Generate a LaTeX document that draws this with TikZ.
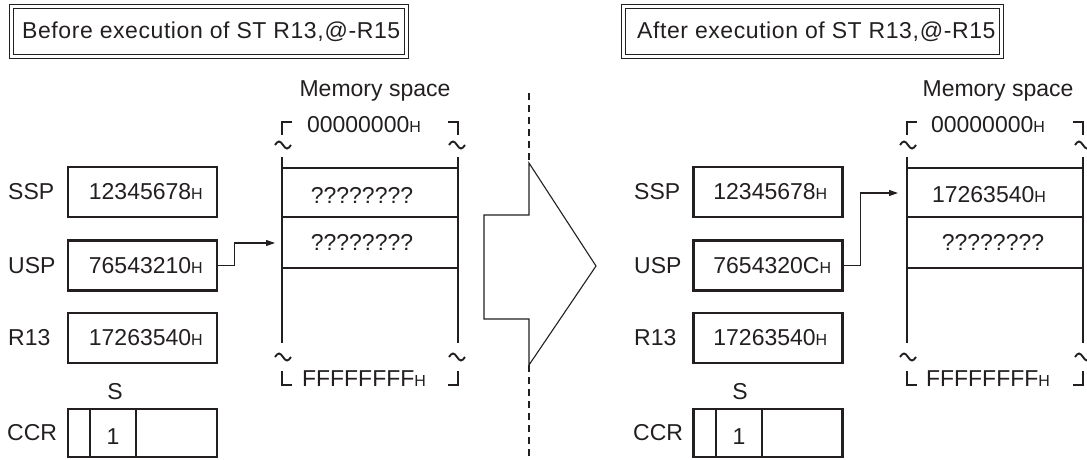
\documentclass[tikz,border=0pt]{standalone}
\usepackage{fontspec}
\setmainfont{Liberation Sans}
\usetikzlibrary{calc,arrows.meta}
\definecolor{ink}{HTML}{231F20}
\newcommand\hsub{{\fontsize{16}{16}\selectfont H}}
\newcommand\tildeat[2]{\draw[tild] (#1-8,#2) sin (#1-4,#2-3.5) cos (#1,#2) sin (#1+4,#2+3.5) cos (#1+8,#2);}
\begin{document}
\begin{tikzpicture}[x=1pt,y=-1pt,
  every node/.style={inner sep=0pt, text=ink, font=\fontsize{23}{27}\selectfont},
  regbox/.style={draw=ink, line width=2.6pt, minimum width=149pt, minimum height=50pt},
  regtxt/.style={anchor=west},
  lbl/.style={anchor=west},
  mline/.style={draw=ink, line width=2.6pt},
  rowline/.style={draw=ink, line width=1.4pt},
  thinline/.style={draw=ink, line width=1.1pt},
  brk/.style={draw=ink, line width=2.6pt},
  tild/.style={draw=ink, line width=1.9pt},
  conn/.style={draw=ink, line width=1.1pt, -{Triangle[length=9pt,width=6pt]}},
  ttl/.style={draw=ink, line width=1pt, double, double distance=3pt},
  ttltxt/.style={anchor=west, font=\fontsize{23}{27}\selectfont\addfontfeature{LetterSpace=2.5}}
]
\useasboundingbox (0,0) rectangle (1087,459);

% ---------------- titles ----------------
\node[ttltxt] (ltitle) at (22,32) {Before execution of ST R13,\hspace{1pt}@-R15};
\draw[ttl] ($(ltitle.west)+(-11,-26)$) rectangle ($(ltitle.east)+(6,24.5)$);
\node[ttltxt] (rtitle) at (637,32) {After execution of ST R13,\hspace{1pt}@-R15};
\draw[ttl] ($(rtitle.west)+(-14,-26)$) rectangle ($(rtitle.east)+(6,24.5)$);

% ---------------- left panel ----------------
\node[lbl] (lsspl) at (8,192) {SSP};
\node[lbl] (luspl) at (8,265.5) {USP};
\node[lbl] (lr13l) at (8,338) {R13};
\node[lbl] (lccrl) at (7,433) {CCR};
\node[regbox] (lssp) at (142.5,192) {};
\node[regbox] (lusp) at (142.5,265.5) {};
\node[regbox] (lr13) at (142.5,338) {};
\node[regbox, minimum height=48pt] (lccr) at (142.5,433) {};
\node[regtxt] (lsspv) at ($(lssp.west)+(22,0)$) {12345678\hsub};
\node[regtxt] (luspv) at ($(lusp.west)+(22,0)$) {76543210\hsub};
\node[regtxt] (lr13v) at ($(lr13.west)+(22,0)$) {17263540\hsub};
\draw[thinline] (90,409) -- (90,457) (136,409) -- (136,457);
\node (lsl) at (115,392) {S};
\node (lsv) at (113,437) {1};

% memory left
\node (lmem) at (375,91) {Memory space};
\node (ltop) at (364,125) {00000000\hsub};
\node (lbot) at (364,379) {FFFFFFFF\hsub};
\draw[brk] (282,135) -- (282,122) -- (292,122);
\draw[brk] (448,122) -- (458,122) -- (458,135);
\draw[brk] (282,371) -- (282,385) -- (292,385);
\draw[brk] (448,385) -- (458,385) -- (458,371);
\tildeat{283}{145}
\tildeat{457}{145}
\tildeat{283}{357}
\tildeat{457}{357}
\coordinate (lml1) at (282,157);
\coordinate (lml2) at (282,343);
\coordinate (lmr1) at (458,157);
\coordinate (lmr2) at (458,343);
\draw[mline] (lml1) -- (lml2);
\draw[mline] (lmr1) -- (lmr2);
\draw[rowline] (282,168) -- (458,168);
\draw[rowline] (282,217) -- (458,217);
\draw[rowline] (282,268) -- (458,268);
\node (lrow1) at (362,195) {????????};
\node (lrow2) at (362,242) {????????};
\coordinate (larr) at (275,243);
\draw[conn] (lusp.east) -- ++(16,0) |- (larr);

% ---------------- middle arrow ----------------
\draw[draw=ink, line width=1.1pt, dash pattern=on 7pt off 5pt] (529,93) -- (529,163);
\draw[draw=ink, line width=1.1pt, dash pattern=on 7pt off 5pt] (529,365) -- (529,459);
\draw[thinline, line join=miter] (529,163) -- (529,215) -- (484,215) -- (484,319) -- (529,319) -- (529,365) -- (596,266) -- cycle;

% ---------------- right panel ----------------
\node[lbl] (rsspl) at (634,192) {SSP};
\node[lbl] (ruspl) at (634,265.5) {USP};
\node[lbl] (rr13l) at (634,338) {R13};
\node[lbl] (rccrl) at (633,433) {CCR};
\node[regbox] (rssp) at (768,192) {};
\node[regbox] (rusp) at (768,265.5) {};
\node[regbox] (rr13) at (768,338) {};
\node[regbox, minimum height=48pt] (rccr) at (768,433) {};
\node[regtxt] (rsspv) at ($(rssp.west)+(21,0)$) {12345678\hsub};
\node[regtxt] (ruspv) at ($(rusp.west)+(21,0)$) {7654320C\hsub};
\node[regtxt] (rr13v) at ($(rr13.west)+(21,0)$) {17263540\hsub};
\draw[thinline] (716,409) -- (716,457) (762,409) -- (762,457);
\node (rsl) at (740,392) {S};
\node (rsv) at (739,437) {1};

% memory right
\node (rmem) at (998,91) {Memory space};
\node (rtop) at (988,125) {00000000\hsub};
\node (rbot) at (988,379) {FFFFFFFF\hsub};
\draw[brk] (907,135) -- (907,122) -- (917,122);
\draw[brk] (1073,122) -- (1083,122) -- (1083,135);
\draw[brk] (907,371) -- (907,385) -- (917,385);
\draw[brk] (1073,385) -- (1083,385) -- (1083,371);
\tildeat{908}{145}
\tildeat{1083}{145}
\tildeat{908}{357}
\tildeat{1083}{357}
\coordinate (rml1) at (907,157);
\coordinate (rml2) at (907,343);
\coordinate (rmr1) at (1083,157);
\coordinate (rmr2) at (1083,343);
\draw[mline] (rml1) -- (rml2);
\draw[mline] (rmr1) -- (rmr2);
\draw[rowline] (907,168) -- (1083,168);
\draw[rowline] (907,217) -- (1083,217);
\draw[rowline] (907,268) -- (1083,268);
\node (rrow1) at (989,195) {17263540\hsub};
\node (rrow2) at (993,242) {????????};
\coordinate (rarr) at (898,193);
\draw[conn] (rusp.east) -- ++(17,0) |- (rarr);
\end{tikzpicture}
\end{document}
